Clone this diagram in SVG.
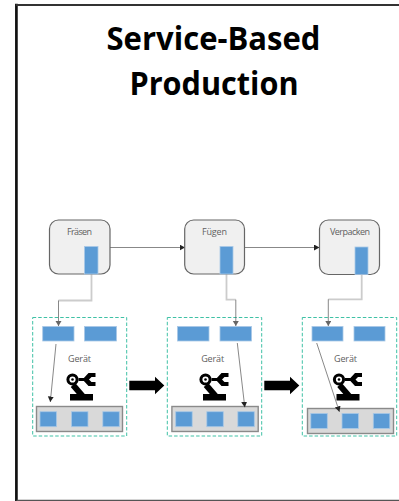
<svg xmlns="http://www.w3.org/2000/svg" width="399" height="501" viewBox="0 0 399 501">
<defs>
<marker id="ah" markerWidth="8" markerHeight="8" refX="5.500" refY="3" orient="auto" markerUnits="userSpaceOnUse"><path d="M0 0L5.500 3L0 6z" fill="#222"/></marker>
<marker id="ag" markerWidth="8" markerHeight="8" refX="5" refY="3" orient="auto" markerUnits="userSpaceOnUse"><path d="M0 0L5 3L0 6z" fill="#666"/></marker>
<g id="robot">
<circle cx="-9" cy="-10.500" r="4.600" fill="none" stroke="#000" stroke-width="3"/><circle cx="-9" cy="-10.500" r="1.300" fill="#000"/>
<path d="M-3 -10.500H3" stroke="#000" stroke-width="3"/>
<path d="M1 -10.500L7 -17H14V-13H10L7.500 -10.500L10 -8H14V-4H7z" fill="#000"/>
<path d="M-8.500 -5L1 6" stroke="#000" stroke-width="6"/>
<rect x="-11.500" y="4" width="23" height="6.500" fill="#000"/>
</g>
</defs>
<style>
.t{font-family:"Open Sans","Liberation Sans",sans-serif;font-size:9px;fill:#606060;text-anchor:middle}
.title{font-family:"Open Sans","Liberation Sans",sans-serif;font-weight:700;font-size:32px;fill:#000;text-anchor:middle}
.svc{fill:#f0f0f0;stroke:#666;stroke-width:1.2}
.b{fill:#5b9bd5;stroke:#a9c8e6;stroke-width:.8}
.dev{fill:#fff;stroke:#3fc1a5;stroke-width:1;stroke-dasharray:3.500 2}
.conv{fill:#d9d9d9;stroke:#8a8a8a;stroke-width:1.400}
.l{fill:none;stroke:#555;stroke-width:.7}
.g{fill:none;stroke:#ccc;stroke-width:1.800}
.fa{fill:#000}
.frame{fill:none;stroke-linecap:square}
</style>
<g id="frame"><path class="frame" d="M16.400 5V500" stroke="#111" stroke-width="2.700"/><path class="frame" d="M17 5H400" stroke="#333" stroke-width="2"/><path class="frame" d="M17 500.300H400" stroke="#555" stroke-width="1.200"/></g>
<g id="title"><text class="title" x="213.500" y="50" textLength="214" lengthAdjust="spacingAndGlyphs">Service-Based</text><text class="title" x="214" y="95" textLength="169" lengthAdjust="spacingAndGlyphs">Production</text></g>
<g id="device1"><rect class="dev" x="32.700" y="317.500" width="94" height="118.500"/><rect class="b" x="42.700" y="326.500" width="31.300" height="14.500"/><rect class="b" x="84.500" y="326.500" width="32" height="14.500"/><text class="t" x="79.500" y="362" textLength="23">Gerät</text><use href="#robot" x="81.500" y="390"/><rect class="conv" x="36.500" y="406.500" width="86" height="25"/><rect class="b" x="40" y="411.700" width="16.500" height="15"/><rect class="b" x="71.500" y="411.700" width="16.500" height="15"/><rect class="b" x="102.800" y="411.700" width="16.500" height="15"/></g>
<g id="device2"><rect class="dev" x="167.300" y="317.500" width="94.400" height="118.500"/><rect class="b" x="177.500" y="326.500" width="31.500" height="14.500"/><rect class="b" x="220" y="326.500" width="31.500" height="14.500"/><text class="t" x="212.700" y="362" textLength="23">Gerät</text><use href="#robot" x="214.500" y="390"/><rect class="conv" x="171.900" y="406.500" width="86.300" height="25"/><rect class="b" x="175.700" y="411.700" width="16.500" height="15"/><rect class="b" x="206.800" y="411.700" width="16.500" height="15"/><rect class="b" x="237.800" y="411.700" width="16.500" height="15"/></g>
<g id="device3"><rect class="dev" x="302.300" y="317.500" width="94.400" height="118.500"/><rect class="b" x="312" y="326.500" width="31" height="14.500"/><rect class="b" x="354" y="326.500" width="31" height="14.500"/><text class="t" x="345.500" y="362" textLength="23">Gerät</text><use href="#robot" x="348" y="390"/><rect class="conv" x="307.500" y="408.500" width="86" height="25"/><rect class="b" x="310.800" y="413.400" width="16.500" height="15"/><rect class="b" x="342" y="413.400" width="16.500" height="15"/><rect class="b" x="373.300" y="413.400" width="16.500" height="15"/></g>
<g id="connectors">
<path class="g" d="M91.500 274V300.500H58.500"/><path class="l" d="M58.500 300.500V326" marker-end="url(#ag)"/>
<path class="g" d="M226.500 274V299.700H235.800"/><path class="l" d="M235.800 299.700V326" marker-end="url(#ag)"/>
<path class="g" d="M361.700 274V299.300H328.300"/><path class="l" d="M328.300 299.300V326" marker-end="url(#ag)"/>
<path class="l" d="M110 247.500H185" marker-end="url(#ah)"/><path class="l" d="M244.500 247.500H319.500" marker-end="url(#ah)"/>
<path class="l" d="M56 344L50.300 402" marker-end="url(#ah)"/><path class="l" d="M237.300 343L244.800 407.300" marker-end="url(#ah)"/><path class="l" d="M316.700 343L339.400 411.800" marker-end="url(#ah)"/>
<path class="fa" d="M129.300 380.700H155V376.700L164.300 385.500L155 394.300V390.200H129.300z"/><path class="fa" d="M264.300 380.700H290V376.700L299.300 385.500L290 394.300V390.200H264.300z"/>
</g>
<g id="fraesen"><rect class="svc" x="49.500" y="220" width="60.500" height="54" rx="9"/><rect class="b" x="84.500" y="246.500" width="13.500" height="27.500"/><text class="t" x="79.500" y="235" textLength="25">Fräsen</text></g>
<g id="fuegen"><rect class="svc" x="184.700" y="220" width="59.800" height="54" rx="9"/><rect class="b" x="220" y="246.500" width="13" height="27.500"/><text class="t" x="214.500" y="235" textLength="25">Fügen</text></g>
<g id="verpacken"><rect class="svc" x="319.500" y="220" width="60" height="54.500" rx="9"/><rect class="b" x="355" y="247" width="13" height="27.500"/><text class="t" x="350" y="235" textLength="40">Verpacken</text></g>
</svg>
